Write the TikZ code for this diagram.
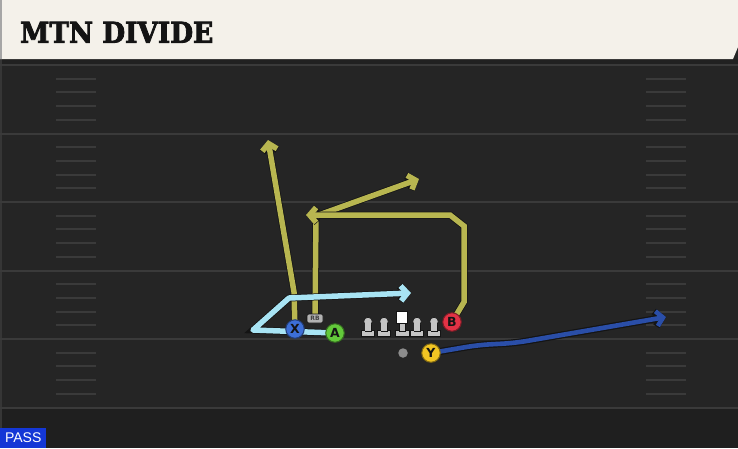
\documentclass[tikz,border=0pt]{standalone}
\usepackage{fontspec}
\setmainfont{DejaVu Serif}
\newfontfamily\slab{DejaVu Serif}[BoldFeatures={FakeBold=3}]
\newfontfamily\sansf{Liberation Sans}
\newfontfamily\dvsans{DejaVu Sans}
\usetikzlibrary{arrows.meta}
\definecolor{cream}{HTML}{F4F1EA}
\definecolor{fieldbg}{HTML}{252525}
\definecolor{fieldlow}{HTML}{1F1F1F}
\definecolor{yardline}{HTML}{3A3A3A}
\definecolor{yroute}{HTML}{B8B650}
\definecolor{lbroute}{HTML}{A8E4F4}
\definecolor{dbroute}{HTML}{2A4EA8}
\definecolor{xfill}{HTML}{3D6FD6}
\definecolor{afill}{HTML}{63C93B}
\definecolor{bfill}{HTML}{E23245}
\definecolor{yfill}{HTML}{F2C523}
\definecolor{passblue}{HTML}{1437D6}
\definecolor{olgrey}{HTML}{C4C4C4}
\definecolor{outl}{HTML}{141414}
\tikzset{
  yard/.style={draw=yardline, line width=2pt},
  hash/.style={draw=yardline, line width=2pt},
  route/.style={line width=5.5pt, line join=miter, line cap=butt,
     -{Straight Barb[length=6.5pt,width=15pt]},
     preaction={draw=outl, line width=7pt}},
  yr/.style={route, draw=yroute},
  lbr/.style={route, draw=lbroute, line join=round},
  dbr/.style={route, draw=dbroute, line width=4.6pt, preaction={draw=outl, line width=6pt}},
  player/.style={circle, minimum size=18.5pt, inner sep=0pt, line width=1pt,
     font=\dvsans\bfseries\fontsize{12.5}{12.5}\selectfont, text=outl},
  lineman/.style={fill=olgrey, draw=outl, line width=0.6pt},
}
\begin{document}
\begin{tikzpicture}[x=1pt,y=-1pt]
\useasboundingbox (0,0) rectangle (738,448);
% field
\fill[fieldbg] (0,0) rectangle (738,448);
\fill[fieldlow] (0,408) rectangle (738,448);
\fill[fieldlow!70!fieldbg] (0,59) rectangle (738,64);
\draw[draw=yardline!80!fieldbg, line width=1.5pt] (1,59) -- (1,448);
% yard lines and hashes
\foreach \yy in {65,133.5,202,270.5,339,407.5}{
  \draw[yard] (0,\yy) -- (738,\yy);
}
\foreach \yy in {65,133.5,202,270.5,339}{
  \foreach \k in {1,2,3,4}{
    \draw[hash] (56,\yy+13.7*\k) -- (96,\yy+13.7*\k);
    \draw[hash] (646,\yy+13.7*\k) -- (686,\yy+13.7*\k);
  }
}
% header
\fill[cream] (0,0) -- (738,0) -- (738,47) -- (733,59) -- (0,59) -- cycle;
\fill[black!35] (0,0) rectangle (2,59);
\node[anchor=south west, inner sep=0pt, text=outl] (title) at (20,43)
  {\resizebox{193pt}{21pt}{\slab\bfseries MTN DIVIDE}};
% PASS label
\node[fill=passblue, text=white, anchor=south west, minimum width=46pt,
  minimum height=20pt, inner sep=0pt, font=\sansf\fontsize{14}{14}\selectfont]
  (pass) at (0,448) {PASS};

% route waypoints
\coordinate (xup) at (294,292);
\coordinate (xend) at (268,140);
\coordinate (rbtop) at (316,216);
\coordinate (rbend) at (419,179);
\coordinate (b1) at (464,302);
\coordinate (b2) at (464,226);
\coordinate (b3) at (450,215);
\coordinate (bend) at (306,215);
\coordinate (a1) at (253,330);
\coordinate (a2) at (289,298);
\coordinate (aend) at (411,293);
\coordinate (y1) at (478,345);
\coordinate (y2) at (515,343);
\coordinate (yend) at (666,317);

% players (positions)
\coordinate (Xp) at (295,329);
\coordinate (Ap) at (335,333);
\coordinate (Bp) at (452,322);
\coordinate (Yp) at (431,353);
\coordinate (RBp) at (315,318.5);

% routes
\draw[yr] (Xp) -- (xup) -- (xend);
\draw[yr] (RBp) -- (rbtop) -- (rbend);
\draw[yr] (Bp) -- (b1) -- (b2) -- (b3) -- (bend);
\draw[lbr] (Ap) -- (a1) -- (a2) -- (aend);
\draw[dbr, rounded corners=12pt] (Yp) -- (y1) -- (y2) -- (yend);

% RB
\node[fill=black!30, draw=outl, line width=0.6pt, rounded corners=2pt,
  minimum width=16pt, minimum height=9pt, inner sep=0pt,
  font=\dvsans\bfseries\fontsize{6}{6}\selectfont, text=black!75] (RB) at (RBp) {RB};

% linemen
\foreach \xx/\nm in {368/L1,384/L2,417/L4,434/L5}{
  \fill[lineman] (\xx-6.5,330.5) rectangle (\xx+6.5,336.5);
  \fill[lineman] (\xx-3,321) rectangle (\xx+3,331);
  \node[circle, fill=olgrey, draw=outl, line width=0.6pt, minimum size=8.5pt, inner sep=0pt] (\nm) at (\xx,321.5) {};
  \fill[olgrey] (\xx-2.7,322) rectangle (\xx+2.7,331.2);
}
\fill[lineman] (395,330.5) rectangle (409,336.5);
\fill[lineman] (399,322) rectangle (405,331);
\node[fill=white, draw=outl, line width=0.6pt, minimum size=11.5pt, inner sep=0pt] (C) at (402,317.5) {};
% QB
\node[circle, fill=black!45, minimum size=9.5pt, inner sep=0pt] (QB) at (403,353) {};

% skill players
\node[player, fill=xfill, draw=xfill!55!black] (X) at (Xp) {X};
\node[player, fill=afill, draw=afill!55!black] (A) at (Ap) {A};
\node[player, fill=bfill, draw=bfill!55!black] (B) at (Bp) {B};
\node[player, fill=yfill, draw=yfill!55!black] (Y) at (Yp) {Y};
\end{tikzpicture}
\end{document}
